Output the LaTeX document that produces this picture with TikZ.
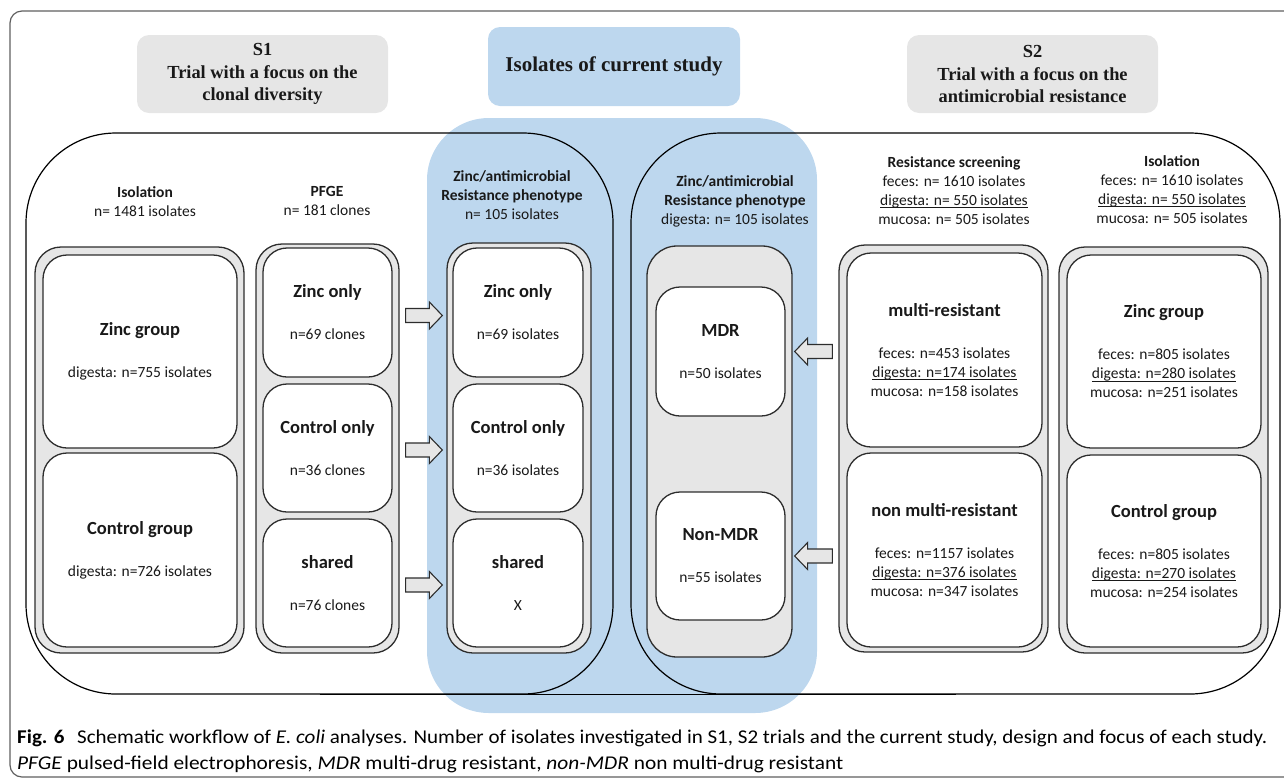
\documentclass[tikz,border=0pt]{standalone}
\usepackage{fontspec}
\setmainfont{Carlito}
\newfontfamily\kopfont{Liberation Serif}
\usetikzlibrary{calc}
\definecolor{edge}{RGB}{45,45,45}
\definecolor{boxgrey}{RGB}{230,230,230}
\definecolor{studyblue}{RGB}{189,215,238}
\definecolor{frame}{RGB}{95,95,95}
% underlined line with a heavier rule
\newsavebox\ulbox
\newcommand\ulin[1]{\sbox\ulbox{#1}\rlap{\rule[-3pt]{\wd\ulbox}{1.3pt}}\usebox\ulbox}
\newcommand\cellhead[1]{{\fontsize{18.5}{19}\selectfont\bfseries #1}}

\begin{document}
\begin{tikzpicture}[x=1pt, y=-1pt,
  every node/.style={inner sep=0pt, align=center, text=black!90,
    font=\fontsize{15.5}{19}\selectfont},
  kopvak/.style={fill=boxgrey, rounded corners=12pt,
    font=\kopfont\bfseries\fontsize{18.4}{22.5}\selectfont},
  gebied/.style={draw=black, line width=1.2pt, rounded corners=90pt},
  kolom/.style={draw=edge, line width=1.3pt, fill=boxgrey, rounded corners=26pt},
  vak/.style={draw=edge, line width=1.3pt, fill=white, rounded corners=24pt},
  fatarrow/.style={draw=edge, line width=1.1pt, fill=boxgrey,
    to path={($(\tikztostart)!7pt!90:(\tikztotarget)$)
      -- ($(\tikztotarget)!13pt!(\tikztostart)!7pt!-90:(\tikztostart)$)
      -- ($(\tikztotarget)!13pt!(\tikztostart)!13.5pt!-90:(\tikztostart)$)
      -- (\tikztotarget)
      -- ($(\tikztotarget)!13pt!(\tikztostart)!13.5pt!90:(\tikztostart)$)
      -- ($(\tikztotarget)!13pt!(\tikztostart)!7pt!90:(\tikztostart)$)
      -- ($(\tikztostart)!7pt!-90:(\tikztotarget)$) -- cycle}}]
  \useasboundingbox (0,0) rectangle (1284,780);
  \clip (0,0) rectangle (1284,780);
  % kader om figuur
  \draw[frame, line width=1.2pt, rounded corners=12pt] (10,11) rectangle (1310,777);

  % koppen
  \node[kopvak, minimum width=251pt, minimum height=78pt] (s1kop) at (262.5,74) {S1\\Trial with a focus on the\\clonal diversity};
  \node[kopvak, fill=studyblue, minimum width=252pt, minimum height=79pt,
    font=\kopfont\bfseries\fontsize{21}{24}\selectfont] (stkop) at (614,66.5) {Isolates of current study};
  \node[kopvak, minimum width=251pt, minimum height=78pt] (s2kop) at (1032.5,74) {S2\\Trial with a focus on the\\antimicrobial resistance};

  % blauwe strook huidige studie
  \node[fill=studyblue, rounded corners=62pt, minimum width=390pt, minimum height=595pt] (study) at (622,415.5) {};
  % gebieden S1 en S2
  \node[gebied, minimum width=587pt, minimum height=561pt] (s1area) at (319.5,413.5) {};
  \node[gebied, minimum width=649pt, minimum height=561pt] (s2area) at (955.5,413.5) {};
  \draw[black, line width=1.2pt] (s1area.south) -- (s2area.south);

  % kolomkoppen
  \node (h1) at (145,202) {\textbf{Isolation}\\n= 1481 isolates};
  \node (h2) at (327,200.5) {\textbf{PFGE}\\n= 181 clones};
  \node (h3) at (512,195) {\textbf{Zinc/antimicrobial}\\\textbf{Resistance phenotype}\\n= 105 isolates};
  \node (h4) at (735,201.5) {\textbf{Zinc/antimicrobial}\\\textbf{Resistance phenotype}\\digesta: n= 105 isolates};
  \node (h5) at (954,190.5) {\textbf{Resistance screening}\\feces: n= 1610 isolates\\\ulin{digesta: n= 550 isolates}\\mucosa: n= 505 isolates};
  \node (h6) at (1172,189.5) {\textbf{Isolation}\\feces: n= 1610 isolates\\\ulin{digesta: n= 550 isolates}\\mucosa: n= 505 isolates};

  % kolommen
  \node[kolom, minimum width=209pt, minimum height=406pt] (iso1) at (139.5,450) {};
  \node[kolom, minimum width=143pt, minimum height=409pt] (pfge) at (327.5,448.5) {};
  \node[kolom, minimum width=144pt, minimum height=410pt] (cur) at (519,448) {};
  \node[kolom, rounded corners=30pt, minimum width=145pt, minimum height=411pt] (mdrcol) at (719.5,451.5) {};
  \node[kolom, minimum width=209pt, minimum height=407pt] (scr) at (943.5,448.5) {};
  \node[kolom, minimum width=209pt, minimum height=406pt] (iso2) at (1163.5,450) {};

  % S1 isolatie
  \node[vak, minimum width=194pt, minimum height=193pt] (iz1) at (140,351.5) {\cellhead{Zinc group}\\[23pt]digesta: n=755 isolates};
  \node[vak, minimum width=194pt, minimum height=194pt] (ic1) at (140,550) {\cellhead{Control group}\\[23pt]digesta: n=726 isolates};
  % PFGE
  \node[vak, minimum width=129pt, minimum height=129pt] (pz) at (327.5,312.5) {\cellhead{Zinc only}\\[23pt]n=69 clones};
  \node[vak, minimum width=129pt, minimum height=128pt] (pc) at (327.5,448) {\cellhead{Control only}\\[23pt]n=36 clones};
  \node[vak, minimum width=129pt, minimum height=128pt] (ps) at (327.5,583) {\cellhead{shared}\\[23pt]n=76 clones};
  % huidige studie, fenotype
  \node[vak, minimum width=130pt, minimum height=129pt] (cz) at (518,312.5) {\cellhead{Zinc only}\\[23pt]n=69 isolates};
  \node[vak, minimum width=130pt, minimum height=128pt] (cc) at (518,448) {\cellhead{Control only}\\[23pt]n=36 isolates};
  \node[vak, minimum width=130pt, minimum height=128pt] (cs) at (518,583) {\cellhead{shared}\\[23pt]X};
  % MDR
  \node[vak, minimum width=129pt, minimum height=129pt] (mdr) at (720.5,351.5) {\cellhead{MDR}\\[23pt]n=50 isolates};
  \node[vak, minimum width=129pt, minimum height=128pt] (nmdr) at (720.5,556) {\cellhead{Non-MDR}\\[23pt]n=55 isolates};
  % resistentiescreening S2
  \node[vak, minimum width=195pt, minimum height=194pt] (mr) at (944.5,350) {\cellhead{multi-resistant}\\[23pt]feces: n=453 isolates\\\ulin{digesta: n=174 isolates}\\mucosa: n=158 isolates};
  \node[vak, minimum width=195pt, minimum height=194pt] (nmr) at (944.5,550) {\cellhead{non multi-resistant}\\[23pt]feces: n=1157 isolates\\\ulin{digesta: n=376 isolates}\\mucosa: n=347 isolates};
  % S2 isolatie
  \node[vak, minimum width=194pt, minimum height=193pt] (iz2) at (1164,351.5) {\cellhead{Zinc group}\\[23pt]feces: n=805 isolates\\\ulin{digesta: n=280 isolates}\\mucosa: n=251 isolates};
  \node[vak, minimum width=194pt, minimum height=192pt] (ic2) at (1164,551) {\cellhead{Control group}\\[23pt]feces: n=805 isolates\\\ulin{digesta: n=270 isolates}\\mucosa: n=254 isolates};

  % blokpijlen
  \draw[fatarrow] ([xshift=6pt,yshift=-3pt]pfge.east |- pz) to ([xshift=-4pt,yshift=-3pt]cur.west |- cz);
  \draw[fatarrow] ([xshift=6pt,yshift=-2pt]pfge.east |- pc) to ([xshift=-4pt,yshift=-2pt]cur.west |- cc);
  \draw[fatarrow] ([xshift=6pt,yshift=-2pt]pfge.east |- ps) to ([xshift=-4pt,yshift=-2pt]cur.west |- cs);
  \draw[fatarrow] ([xshift=-6pt]scr.west |- mdr) to ([xshift=2pt]mdrcol.east |- mdr);
  \draw[fatarrow] ([xshift=-6pt]scr.west |- nmdr) to ([xshift=2pt]mdrcol.east |- nmdr);

  % onderschrift
  \node[anchor=base west, text=black, font=\fontsize{19.5}{22}\selectfont] (cap1) at (17,743)
    {\resizebox{1250pt}{\height}{\textbf{Fig. 6}\hspace{0.6em}Schematic workflow of \textit{E. coli} analyses. Number of isolates investigated in S1, S2 trials and the current study, design and focus of each study.}};
  \node[anchor=base west, text=black, font=\fontsize{19.5}{22}\selectfont] (cap2) at (17,769)
    {\resizebox{826pt}{\height}{\textit{PFGE} pulsed-field electrophoresis, \textit{MDR} multi-drug resistant, \textit{non-MDR} non multi-drug resistant}};
\end{tikzpicture}
\end{document}
